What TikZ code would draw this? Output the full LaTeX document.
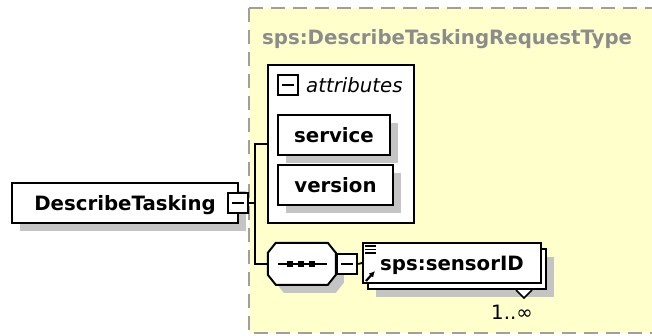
\documentclass[tikz,border=0pt]{standalone}
\usepackage{fontspec}
\setmainfont{DejaVu Sans}
\usetikzlibrary{shadows,arrows.meta}
\definecolor{typeyellow}{RGB}{255,255,204}
\definecolor{shadowgray}{RGB}{196,196,196}
\definecolor{titlegray}{RGB}{140,140,140}
\newcommand{\diagfont}{\fontsize{19.75pt}{24pt}\selectfont}
\tikzset{
	lbl/.style={inner sep=0, text height=14.4pt, text depth=0pt},
	elembox/.style={draw, fill=white, line width=2pt, lbl, font={\diagfont\bfseries}, drop shadow={shadow xshift=8pt, shadow yshift=-8pt, fill=shadowgray, opacity=1}},
	collapse/.style={draw, fill=white, line width=2pt, inner sep=0, minimum size=20pt, path picture={\draw[line width=1.8pt] ([xshift=4pt]path picture bounding box.west) -- ([xshift=-4pt]path picture bounding box.east);}},
	link/.style={line width=1.8pt},
}

\begin{document}
\begin{tikzpicture}[x=1pt,y=-1pt]
	\useasboundingbox (0,0) rectangle (652,335);
	\clip (0,0) rectangle (652,335);
	% complex type
	\draw[fill=typeyellow, draw=gray!75, line width=2.2pt, dash pattern=on 14pt off 8pt] (249,8) rectangle (690,333);
	\node[lbl, anchor=west, font={\diagfont\bfseries}, text=titlegray] (typename) at (262,37) {sps:DescribeTaskingRequestType};
	% root element
	\node[elembox, minimum width=226pt, minimum height=40pt] (root) at (125,203) {DescribeTasking};
	\node[collapse] (rootminus) at (238,203) {};
	% attributes
	\node[draw, fill=white, line width=2pt, minimum width=146pt, minimum height=158pt] (attrs) at (341,144) {};
	\node[collapse] (attrminus) at (288,85) {};
	\node[lbl, anchor=west, font={\diagfont\itshape}] (attrlabel) at (306,85) {attributes};
	\node[elembox, minimum width=112pt, minimum height=40pt] (service) at (334,135) {service};
	\node[elembox, minimum width=115pt, minimum height=40pt] (version) at (335.5,185) {version};
	% sequence
	\node[inner sep=0, minimum width=68pt, minimum height=42pt] (seq) at (302,264) {};
	\fill[shadowgray] ([shift={(16,8)}]seq.north west) -- ++(52,0) -- ++(8,10) -- ++(0,22) -- ++(-8,10) -- ++(-52,0) -- ++(-8,-10) -- ++(0,-22) -- cycle;
	\draw[fill=white, line width=2pt] ([xshift=8pt]seq.north west) -- ++(52,0) -- ++(8,10) -- ++(0,22) -- ++(-8,10) -- ++(-52,0) -- ++(-8,-10) -- ++(0,-22) -- cycle;
	\draw[link] ([xshift=10pt]seq.west) -- ([xshift=-9pt]seq.east);
	\foreach \dx in {-12,-1,10}
		\fill ([xshift=\dx pt]seq.center) +(-3,-3) rectangle +(3,3);
	\node[collapse, anchor=west] (seqminus) at (seq.east) {};
	% sensor element
	\node[elembox, minimum width=178pt, minimum height=40pt] (sensorback) at (457,269) {};
	\draw[fill=white, line width=1.5pt] ([xshift=-31pt]sensorback.south east) -- ++(8,8) -- ++(8,-8);
	\node[draw, fill=white, line width=2pt, lbl, font={\diagfont\bfseries}, minimum width=178pt, minimum height=40pt] (sensor) at (452,263) {sps:sensorID};
	\foreach \dy in {4,7.5,11}
		\draw[line width=1.3pt] ([shift={(3,\dy)}]sensor.north west) -- ++(11,0);
	\draw[line width=2.2pt, -{Latex[length=6pt,width=6pt]}] ([shift={(4,-3)}]sensor.south west) -- ++(9,-10);
	\node[lbl, font=\diagfont] (occurs) at (512,312) {1..∞};
	% connectors
	\coordinate (spine) at (255,0);
	\draw[link] (rootminus.east) -- (rootminus.east -| spine);
	\draw[link] (attrs.west) -- (attrs.west -| spine) -- (seq.west -| spine) -- (seq.west);
	\draw[link] (seqminus.east) -- (sensor.west);
\end{tikzpicture}
\end{document}
